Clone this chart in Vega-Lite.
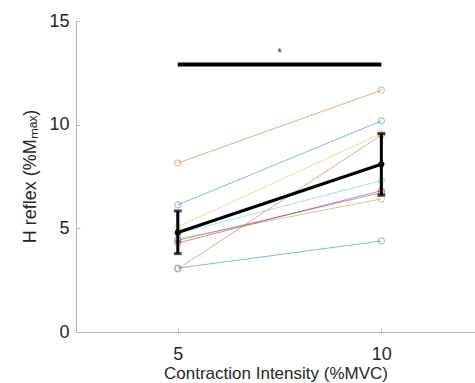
{
  "$schema": "https://vega.github.io/schema/vega-lite/v6.json",
  "width": 399,
  "height": 311,
  "autosize": {"type": "none"},
  "padding": {"left": 76, "top": 21, "right": 0, "bottom": 51},
  "background": "white",
  "config": {
    "view": {"stroke": null},
    "font": "Liberation Sans",
    "axis": {
      "grid": false,
      "domainColor": "#b3b3b3",
      "tickColor": "#b3b3b3",
      "tickSize": -4,
      "labelColor": "#262626",
      "titleColor": "#262626",
      "labelFont": "Liberation Sans",
      "titleFont": "Liberation Sans",
      "labelFontSize": 18,
      "titleFontSize": 18,
      "titleFontWeight": "normal"
    }
  },
  "datasets": {
    "subjects": [
      {"subject": "S1", "intensity": 5, "value": 6.13},
      {"subject": "S1", "intensity": 10, "value": 10.18},
      {"subject": "S2", "intensity": 5, "value": 8.15},
      {"subject": "S2", "intensity": 10, "value": 11.66},
      {"subject": "S3", "intensity": 5, "value": 5.07},
      {"subject": "S3", "intensity": 10, "value": 9.57},
      {"subject": "S4", "intensity": 5, "value": 4.42},
      {"subject": "S4", "intensity": 10, "value": 6.72},
      {"subject": "S5", "intensity": 5, "value": 4.5},
      {"subject": "S5", "intensity": 10, "value": 6.42},
      {"subject": "S6", "intensity": 5, "value": 4.75},
      {"subject": "S6", "intensity": 10, "value": 7.3},
      {"subject": "S7", "intensity": 5, "value": 4.29},
      {"subject": "S7", "intensity": 10, "value": 6.82},
      {"subject": "S8", "intensity": 5, "value": 3.08},
      {"subject": "S8", "intensity": 10, "value": 4.39},
      {"subject": "S9", "intensity": 5, "value": 3.04},
      {"subject": "S9", "intensity": 10, "value": 9.5}
    ],
    "means": [
      {"intensity": 5, "mean": 4.8, "lo": 3.78, "hi": 5.84},
      {"intensity": 10, "mean": 8.09, "lo": 6.6, "hi": 9.57}
    ],
    "sig": [
      {"x1": 5, "x2": 10, "xm": 7.5, "y": 12.9, "ys": 13.45, "label": "*"}
    ]
  },
  "layer": [
    {
      "data": {"name": "subjects"},
      "mark": {"type": "line", "strokeWidth": 1, "opacity": 0.5},
      "encoding": {
        "x": {
          "field": "intensity", "type": "quantitative",
          "scale": {"domain": [2.5, 12.3], "nice": false, "zero": false},
          "axis": {"values": [5, 10], "labelPadding": 17, "title": "Contraction Intensity (%MVC)", "titleFontSize": 17, "titleY": 46, "titleBaseline": "alphabetic"}
        },
        "y": {
          "field": "value", "type": "quantitative",
          "scale": {"domain": [0, 15], "nice": false},
          "axis": {"values": [0, 5, 10, 15], "labelPadding": 11, "title": "H reflex (%Mₘₐₓ)", "titleX": -41, "titleY": 155, "titleBaseline": "alphabetic"}
        },
        "color": {
          "field": "subject", "type": "nominal", "legend": null,
          "scale": {
            "domain": ["S1", "S2", "S3", "S4", "S5", "S6", "S7", "S8", "S9"],
            "range": ["#0072BD", "#D95319", "#EDB120", "#7E2F8E", "#77AC30", "#4DBEEE", "#A2142F", "#0072BD", "#D95319"]
          }
        },
        "detail": {"field": "subject"}
      }
    },
    {
      "data": {"name": "subjects"},
      "mark": {"type": "point", "filled": false, "size": 40, "strokeWidth": 1, "opacity": 0.5},
      "encoding": {
        "x": {"field": "intensity", "type": "quantitative"},
        "y": {"field": "value", "type": "quantitative"},
        "color": {"field": "subject", "type": "nominal", "legend": null}
      }
    },
    {
      "data": {"name": "means"},
      "mark": {"type": "line", "color": "black", "strokeWidth": 3},
      "encoding": {
        "x": {"field": "intensity", "type": "quantitative"},
        "y": {"field": "mean", "type": "quantitative"}
      }
    },
    {
      "data": {"name": "means"},
      "mark": {"type": "rule", "color": "black", "strokeWidth": 3},
      "encoding": {
        "x": {"field": "intensity", "type": "quantitative"},
        "y": {"field": "lo", "type": "quantitative"},
        "y2": {"field": "hi"}
      }
    },
    {
      "data": {"name": "means"},
      "mark": {"type": "tick", "color": "black", "orient": "horizontal", "size": 8, "thickness": 3},
      "encoding": {
        "x": {"field": "intensity", "type": "quantitative"},
        "y": {"field": "lo", "type": "quantitative"}
      }
    },
    {
      "data": {"name": "means"},
      "mark": {"type": "tick", "color": "black", "orient": "horizontal", "size": 8, "thickness": 3},
      "encoding": {
        "x": {"field": "intensity", "type": "quantitative"},
        "y": {"field": "hi", "type": "quantitative"}
      }
    },
    {
      "data": {"name": "means"},
      "mark": {"type": "point", "filled": true, "color": "black", "shape": "circle", "size": 36, "opacity": 1},
      "encoding": {
        "x": {"field": "intensity", "type": "quantitative"},
        "y": {"field": "mean", "type": "quantitative"}
      }
    },
    {
      "data": {"name": "sig"},
      "mark": {"type": "rule", "color": "black", "strokeWidth": 4},
      "encoding": {
        "x": {"field": "x1", "type": "quantitative"},
        "x2": {"field": "x2"},
        "y": {"field": "y", "type": "quantitative"}
      }
    },
    {
      "data": {"name": "sig"},
      "mark": {"type": "text", "color": "#333333", "fontSize": 12, "baseline": "middle", "align": "center"},
      "encoding": {
        "x": {"field": "xm", "type": "quantitative"},
        "y": {"field": "ys", "type": "quantitative"},
        "text": {"field": "label"}
      }
    }
  ]
}
